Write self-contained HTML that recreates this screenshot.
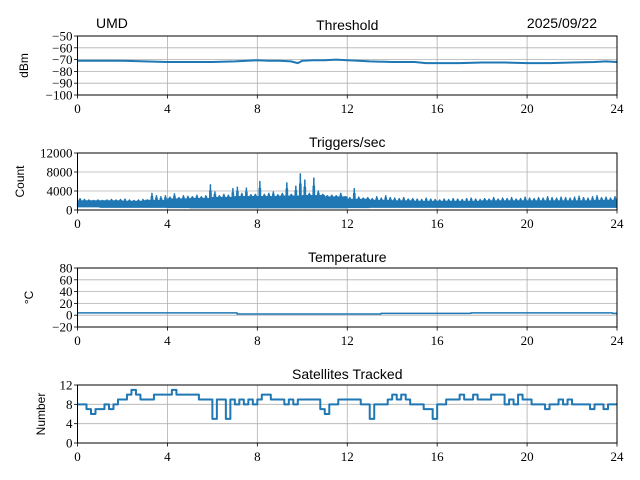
<!DOCTYPE html>
<html><head><meta charset="utf-8">
<style>
body{margin:0;background:#fff;}
svg{display:block;}
.tk{font-family:"Liberation Serif",serif;font-size:13px;fill:#000;}
.tt{font-family:"Liberation Sans",sans-serif;font-size:14px;fill:#000;}
.yl{font-family:"Liberation Sans",sans-serif;font-size:12px;fill:#000;}
</style></head>
<body>
<svg id="fig" width="640" height="480" xmlns="http://www.w3.org/2000/svg">
<rect width="640" height="480" fill="#fff"/>
<text class="tt" x="96" y="28">UMD</text>
<text class="tt" x="597" y="28" text-anchor="end">2025/09/22</text>
</svg>
<script>
const xTicks=[0,4,8,12,16,20,24];
const thrHours=[0,1,2,3,4,5,6,7,8,8.5,9,9.5,9.8,10,10.5,11,11.5,12,12.5,13,14,15,15.5,16,17,18,19,20,21,22,23,23.5,24];
const thrVals=[-71,-71,-71,-71.5,-72,-72,-72,-71.5,-70.5,-71,-71,-71.5,-73,-71,-70.5,-70.5,-70,-70.5,-71,-71.5,-72,-72,-73,-73,-73,-72.5,-72.5,-73,-73,-72.5,-72,-71.5,-72];
const thrTicks=[-50,-60,-70,-80,-90,-100];
const trigHigh=[2400,2200,2100,2000,2100,2000,2100,2200,2100,2200,2300,2100,2000,2100,2200,2100,3500,3000,2800,3000,2700,3400,2600,3000,2900,2800,3100,2800,3000,5300,3800,3000,3300,3100,4500,4800,3500,4600,3200,3300,6000,3300,3500,3800,3200,3500,5700,3300,5000,7600,6300,3500,6700,4000,3300,3000,3100,3000,3500,2800,2600,4500,2700,2500,2600,2400,2800,2500,3000,2600,2500,2400,2600,2300,2400,2300,2200,2500,2300,2200,2100,2300,2200,2400,2300,2200,2400,2500,2300,2200,2400,2300,2600,2300,2500,2400,2600,2300,2400,2700,2500,2400,2600,2500,2800,2600,2500,2700,2600,2500,2700,2900,2600,2500,2800,3000,2600,2700,2500,2800];
const trigBody=[1900,1900,1800,2000,2300,2400,2600,2800,2800,2900,3000,2700,2200,2000,1900,1800,1800,1800,1900,1900,1900,1900,1900,2000,2000];
const trigLow=[700,600,600,600,550,500,500,500,500,500,500,500,550,600,600,600,600,600,600,600,600,600,600,600,600];
const trigTicks=[0,4000,8000,12000];
const tempHours=[0,7.1,13.5,17.5,23.8,24];
const tempVals=[4,2,3,4,3,3];
const tempTicks=[-20,0,20,40,60,80];
const satVals=[8,8,7,6,7,7,8,7,8,9,9,10,11,10,9,9,9,10,10,10,10,11,10,10,10,10,10,9,9,9,5,9,9,5,9,8,9,8,9,8,9,10,10,9,9,9,8,9,8,9,9,9,9,9,7,6,8,8,9,9,9,9,9,8,8,5,8,8,8,9,10,9,10,9,8,8,8,7,7,5,8,8,9,9,9,10,9,9,10,9,9,9,10,10,10,8,9,8,10,9,9,8,8,8,7,8,8,9,8,9,8,8,8,8,7,8,8,7,8,8];
const satTicks=[0,4,8,12];

const NS='http://www.w3.org/2000/svg';
const svg=document.getElementById('fig');
const X0=77.5,X1=617;
function xs(t){return X0+(t/24)*(X1-X0);}
function mk(tag,attrs,parent){const e=document.createElementNS(NS,tag);for(const k in attrs)e.setAttribute(k,attrs[k]);(parent||svg).appendChild(e);return e;}
function panel(key,top,bot,ymin,ymax,yTicks,title,ylab,fmt,ylx){
  const g=mk('g',{});
  
  
  const ys=v=>bot-(v-ymin)/(ymax-ymin)*(bot-top);
  xTicks.forEach(t=>{const l=mk('line',{x1:xs(t),x2:xs(t),y1:top,y2:bot,stroke:'#b0b0b0','stroke-width':0.8},g);
    
    mk('line',{x1:xs(t),x2:xs(t),y1:bot,y2:bot+3.5,stroke:'#000','stroke-width':0.8},g);
    const tx=mk('text',{x:xs(t),y:bot+18,'text-anchor':'middle',class:'tk'},g);tx.textContent=t;
    });
  yTicks.forEach(v=>{const y=ys(v);mk('line',{x1:X0,x2:X1,y1:y,y2:y,stroke:'#b0b0b0','stroke-width':0.8},g);
    mk('line',{x1:X0-3.5,x2:X0,y1:y,y2:y,stroke:'#000','stroke-width':0.8},g);
    const tx=mk('text',{x:X0-5,y:y+4.5,'text-anchor':'end',class:'tk'},g);tx.textContent=fmt(v);
    });
  const tt=mk('text',{x:(X0+X1)/2,y:top-6,'text-anchor':'middle',class:'tt'},g);tt.textContent=title;
  
  const cy=(top+bot)/2;
  const yl=mk('text',{x:0,y:0,'text-anchor':'middle',class:'yl',transform:`translate(${ylx},${cy}) rotate(-90)`},g);yl.textContent=ylab;
  
  return {g,ys,top,bot};
}
function frame(p,key){const r=mk('rect',{x:X0,y:p.top,width:X1-X0,height:p.bot-p.top,fill:'none',stroke:'#000','stroke-width':1},p.g);
  }
function line(p,pts,key,w){const l=mk('polyline',{points:pts.map(q=>q[0].toFixed(2)+','+q[1].toFixed(2)).join(' '),fill:'none',stroke:'#1f77b4','stroke-width':w||1.5,'stroke-linejoin':'round'},p.g);
  }
const minus=v=>String(v).replace('-','\u2212');

// Threshold
let p=panel('threshold',36,95,-100,-50,thrTicks,'Threshold','dBm',minus,28);
line(p,thrHours.map((t,i)=>[xs(t),p.ys(thrVals[i])]),'threshold',2);frame(p,'threshold');
// Triggers
p=panel('triggers',153,210,0,12000,trigTicks,'Triggers/sec','Count',v=>v,24);
{const pts=[];const n=trigHigh.length,dt=24/n;const sub=8;
 trigHigh.forEach((h,i)=>{const hr=Math.min(24,Math.floor(i*dt));const b=trigBody[hr],lo=trigLow[hr];
   for(let k=0;k<sub;k++){const t=i*dt+dt*k/sub;
     const top=(k===4)?h:(k===3||k===5)?(b+(h-b)*0.55):b;
     pts.push([xs(t),p.ys(lo)]);
     pts.push([xs(t+dt/(2*sub)),p.ys(top)]);}
 });
 line(p,pts,'triggers',1.5);}
frame(p,'triggers');
// Temperature
p=panel('temp',268,327,-20,80,tempTicks,'Temperature','\u00B0C',minus,33);
{const pts=[];tempHours.forEach((t,i)=>{if(i>0)pts.push([xs(t),p.ys(tempVals[i-1])]);pts.push([xs(t),p.ys(tempVals[i])]);});line(p,pts,'temp');}
frame(p,'temp');
// Satellites
p=panel('sat',385,443,0,12,satTicks,'Satellites Tracked','Number',v=>v,45);
{const pts=[];const n=satVals.length,dt=24/n;satVals.forEach((v,i)=>{pts.push([xs(i*dt),p.ys(v)]);pts.push([xs((i+1)*dt),p.ys(v)]);});line(p,pts,'sat',2);}
frame(p,'sat');
</script>
</body></html>
